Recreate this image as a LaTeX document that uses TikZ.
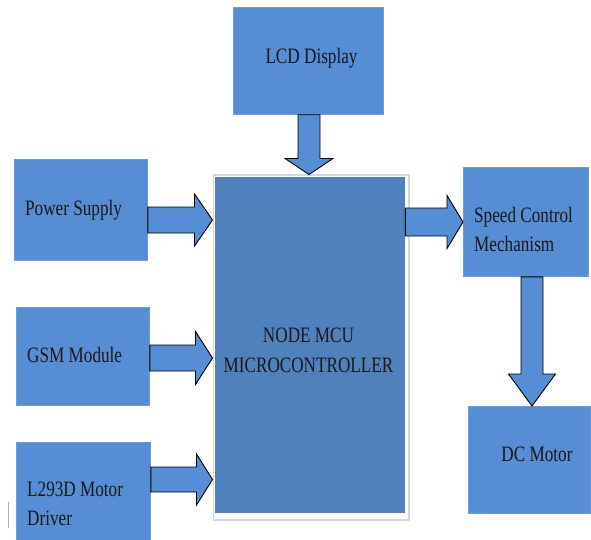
\documentclass[tikz,border=0pt]{standalone}
\usepackage{fontspec}
\setmainfont{Liberation Serif}
\usetikzlibrary{calc}
\definecolor{boxblue}{HTML}{558ED5}
\definecolor{boxedge}{HTML}{6A9BDA}
\definecolor{midblue}{HTML}{4F81BD}
\definecolor{framegray}{HTML}{D4D8DE}
\newcommand\txt[2][l]{\scalebox{0.78}[1]{\begin{tabular}{@{}#1@{}}#2\end{tabular}}}
\newcommand\harr[6]{%
  \draw[arr] let \p1=(#1.east |- 0,#3), \p2=(#2.west |- 0,#3) in
   (\x1,\y1+#4pt) -- (\x2-#6pt,\y1+#4pt) -- (\x2-#6pt,\y1+#5pt) -- (\x2,\y1)
   -- (\x2-#6pt,\y1-#5pt) -- (\x2-#6pt,\y1-#4pt) -- (\x1,\y1-#4pt) -- cycle;}
\newcommand\varr[6]{%
  \draw[arr] let \p1=(#1.south -| #3,0), \p2=(#2.north -| #3,0) in
   (\x1-#4pt,\y1) -- (\x1-#4pt,\y2+#6pt) -- (\x1-#5pt,\y2+#6pt) -- (\x1,\y2)
   -- (\x1+#5pt,\y2+#6pt) -- (\x1+#4pt,\y2+#6pt) -- (\x1+#4pt,\y1) -- cycle;}
\begin{document}
\begin{tikzpicture}[x=1pt,y=-1pt,
  blk/.style={rectangle,fill=boxblue,draw=boxedge,line width=0.8pt,inner sep=0pt,anchor=north west},
  lbl/.style={inner sep=0pt,font=\fontsize{22}{29}\selectfont,text=black!90},
  arr/.style={fill=boxblue,draw=black,line width=0.9pt,line join=miter}]
\useasboundingbox (0,0) rectangle (591,540);
% boxes
\node[blk,minimum width=150pt,minimum height=107pt] (lcd) at (233,7) {};
\node[blk,minimum width=133pt,minimum height=101pt] (ps) at (14,159) {};
\node[blk,minimum width=133pt,minimum height=98pt] (gsm) at (16,307) {};
\node[blk,minimum width=134pt,minimum height=98pt] (drv) at (16,442) {};
\node[blk,minimum width=125pt,minimum height=109pt] (spd) at (463,167) {};
\node[blk,minimum width=122pt,minimum height=107pt] (dc) at (468,406) {};
\node[rectangle,draw=framegray,line width=1.5pt,fill=white,inner sep=0pt,anchor=north west,
      minimum width=195.5pt,minimum height=344.5pt] (frame) at (212.5,174.5) {};
\node[rectangle,fill=midblue,inner sep=0pt,anchor=north west,
      minimum width=190pt,minimum height=336pt] (mcu) at (215,177) {};
% labels
\node[lbl] (tlcd) at (311.5,58) {\txt{LCD Display}};
\node[lbl,anchor=west] (tps) at (25,210) {\txt{Power Supply}};
\node[lbl,anchor=west] (tgsm) at (27,357) {\txt{GSM Module}};
\node[lbl,anchor=west] (tdrv) at (27,505) {\txt{L293D Motor\\Driver}};
\node[lbl,anchor=west] (tspd) at (474,231) {\txt{Speed Control\\Mechanism}};
\node[lbl] (tmcu) at (308.5,352) {\txt[c]{NODE MCU\hspace{19pt}\\[1pt]MICROCONTROLLER}};
\node[lbl] (tdc) at (537,456) {\txt{DC Motor}};
% arrows
\harr{ps}{frame}{220}{13}{26}{18}
\harr{gsm}{frame}{358}{13}{26.5}{17}
\harr{drv}{frame}{479.5}{12.5}{25.5}{16}
\harr{mcu}{spd}{222}{14}{26.5}{16}
\varr{lcd}{frame}{309}{11}{24}{16}
\varr{spd}{dc}{532}{11}{23.5}{32}
% small stray mark
\draw[gray!60,line width=1pt] (8.5,502) -- (8.5,528);
\end{tikzpicture}
\end{document}
